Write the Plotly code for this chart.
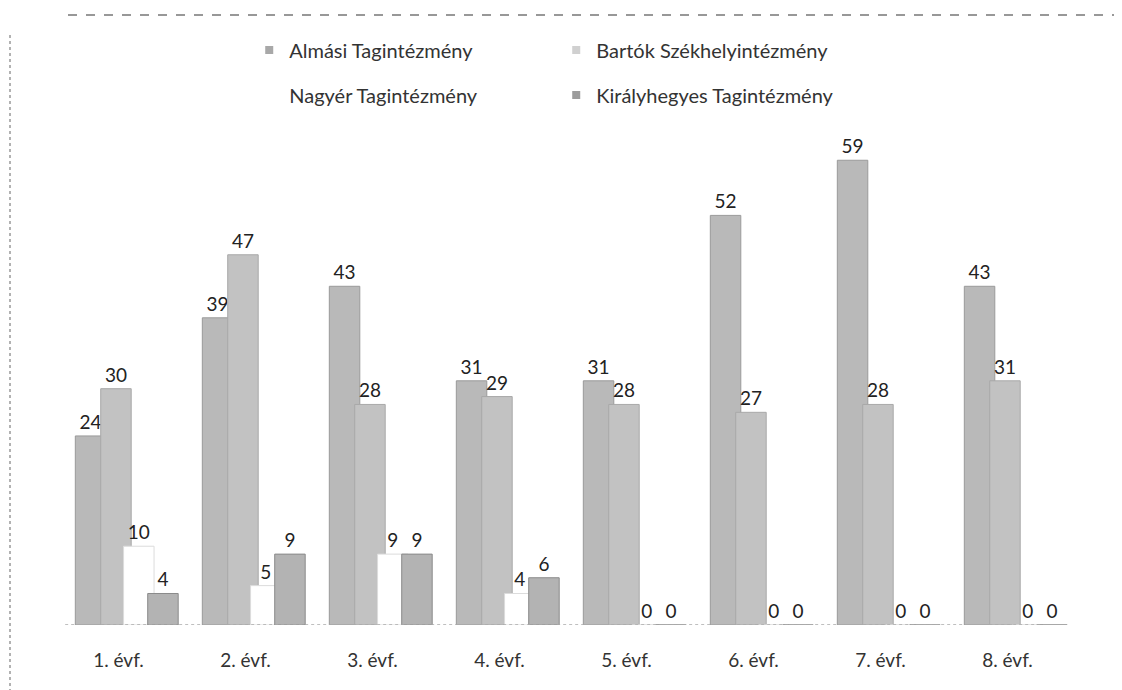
import plotly.graph_objects as go

categories = ["1. évf.", "2. évf.", "3. évf.", "4. évf.", "5. évf.", "6. évf.", "7. évf.", "8. évf."]
series_names = ["Almási Tagintézmény", "Bartók Székhelyintézmény", "Nagyér Tagintézmény", "Királyhegyes Tagintézmény"]
almasi = [24, 39, 43, 31, 31, 52, 59, 43]
bartok = [30, 47, 28, 29, 28, 27, 28, 31]
nagyer = [10, 5, 9, 4, 0, 0, 0, 0]
kiralyhegyes = [4, 9, 9, 6, 0, 0, 0, 0]

values = [almasi, bartok, nagyer, kiralyhegyes]
fills = ["#b9b9b9", "#c2c2c2", "#ffffff", "#b3b3b3"]
edges = ["#9a9a9a", "#a8a8a8", "#dcdcdc", "#8a8a8a"]
legend_marks = ["#a8a8a8", "#d0d0d0", "#ffffff", "#9c9c9c"]
offsets = [-0.34, -0.14, 0.04, 0.23]
legends = ["legend", "legend", "legend2", "legend2"]

fig = go.Figure()
for name, vals, fc, ec, off in zip(series_names, values, fills, edges, offsets):
    fig.add_trace(go.Bar(
        x=categories, y=vals, name=name, showlegend=False,
        marker=dict(color=fc, line=dict(color=ec, width=1)),
        width=0.24, offset=off,
        text=vals, textposition="outside",
        textfont=dict(size=19, color="#222222", family="Lato"),
        cliponaxis=False,
    ))

# legend entries with small square markers
for name, mc, lg in zip(series_names, legend_marks, legends):
    fig.add_trace(go.Scatter(
        x=[None], y=[None], name=name, mode="markers", legend=lg,
        marker=dict(symbol="square", size=8, color=mc, line=dict(width=0)),
    ))

W, H = 1122, 690
L, R, T, B = 47, 59, 105, 73
PW, PH = W - L - R, H - T - B

common_legend = dict(orientation="h", xref="container", yref="container",
                     xanchor="left", yanchor="middle", bgcolor="rgba(0,0,0,0)",
                     entrywidth=262, itemwidth=30, traceorder="normal",
                     font=dict(size=20, color="#333333", family="Lato"))

fig.update_layout(
    width=W, height=H,
    margin=dict(l=L, r=R, t=T, b=B, autoexpand=False),
    barmode="overlay",
    paper_bgcolor="white", plot_bgcolor="white",
    font=dict(family="Lato", color="#333333"),
    showlegend=True,
    legend=dict(common_legend, x=0.215, y=1 - 42 / H),
    legend2=dict(common_legend, x=0.215, y=1 - 87 / H),
    xaxis=dict(type="category", range=[-0.5, 7.5], showgrid=False, showline=False,
               automargin=False, ticks="",
               tickfont=dict(size=19, color="#333333", family="Lato"),
               ticklabelstandoff=22),
    yaxis=dict(range=[0, 65], visible=False, showgrid=False, automargin=False),
    shapes=[
        dict(type="line", xref="paper", yref="y", x0=0.01, x1=0.97, y0=0, y1=0,
             line=dict(color="#aaaaaa", width=1.5, dash="dot")),
        dict(type="line", xref="paper", yref="paper", x0=(60 - L) / PW, x1=(1122 - L) / PW,
             y0=(H - B - 7) / PH, y1=(H - B - 7) / PH,
             line=dict(color="#777777", width=1.5, dash="dash")),
        dict(type="line", xref="paper", yref="paper", x0=(2 - L) / PW, x1=(2 - L) / PW,
             y0=-(B) / PH, y1=(H - B - 25) / PH,
             line=dict(color="#999999", width=1.5, dash="dot")),
    ],
)

fig.write_html("out.html")
